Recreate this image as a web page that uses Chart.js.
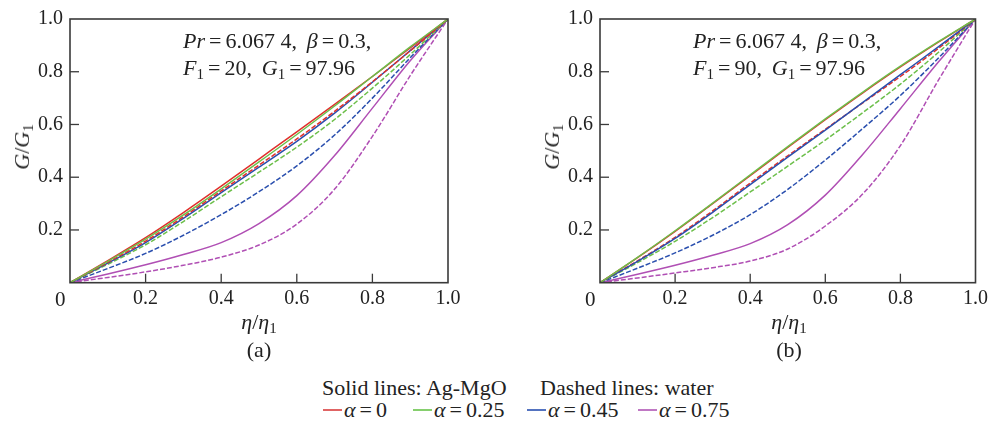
<!DOCTYPE html>
<html>
<head>
<meta charset="utf-8">
<script src="https://cdn.jsdelivr.net/npm/chart.js@4/dist/chart.umd.min.js"></script>
<style>
  html,body{margin:0;padding:0;background:#fff;}
  #wrap{position:relative;width:992px;height:430px;overflow:hidden;background:#fff;}
  canvas{position:absolute;top:0;}
  .t{position:absolute;font-family:"Liberation Serif","DejaVu Serif",serif;font-size:22px;color:#222;white-space:nowrap;line-height:1;}
  .c{transform:translate(-50%,-50%);}
  .rot{transform:translate(-50%,-50%) rotate(-90deg);}
  sub{font-size:15px;vertical-align:-4px;line-height:0;}
  .eq{margin:0 4px;}
  .ln{position:absolute;height:2px;width:19px;}
</style>
</head>
<body>
<div id="wrap">
  <canvas id="cA" width="470" height="330" style="left:0px;width:470px;height:330px;"></canvas>
  <canvas id="cB" width="462" height="330" style="left:530px;width:462px;height:330px;"></canvas>

  <!-- panel (a) texts -->
  <div class="t" style="left:183px;top:27px;line-height:27px;"><i>Pr</i><span class="eq">=</span>6.067 4, &thinsp;<i>β</i><span class="eq">=</span>0.3,<br><i>F</i><sub>1</sub><span class="eq">=</span>20, &thinsp;<i>G</i><sub>1</sub><span class="eq">=</span>97.96</div>
  <div class="t" style="left:55px;top:289px;font-size:21px;">0</div>
  <div class="t c" style="left:259px;top:322px;"><i>η</i>/<i>η</i><sub>1</sub></div>
  <div class="t c" style="left:259px;top:350px;">(a)</div>
  <div class="t rot" style="left:22px;top:147px;"><i>G</i>/<i>G</i><sub>1</sub></div>

  <!-- panel (b) texts -->
  <div class="t" style="left:693px;top:27px;line-height:27px;"><i>Pr</i><span class="eq">=</span>6.067 4, &thinsp;<i>β</i><span class="eq">=</span>0.3,<br><i>F</i><sub>1</sub><span class="eq">=</span>90, &thinsp;<i>G</i><sub>1</sub><span class="eq">=</span>97.96</div>
  <div class="t" style="left:585px;top:289px;font-size:21px;">0</div>
  <div class="t c" style="left:789px;top:322px;"><i>η</i>/<i>η</i><sub>1</sub></div>
  <div class="t c" style="left:789px;top:350px;">(b)</div>
  <div class="t rot" style="left:552px;top:147px;"><i>G</i>/<i>G</i><sub>1</sub></div>

  <!-- legend -->
  <div class="t" style="left:322px;top:377px;">Solid lines: Ag-MgO</div>
  <div class="t" style="left:540px;top:377px;">Dashed lines: water</div>
  <div id="legend"></div>
</div>

<script>
// ---------------- data ----------------
const eta = [0, 0.1, 0.2, 0.3, 0.4, 0.5, 0.6, 0.7, 0.8, 0.9, 1.0];

const xTickValues = [0, 0.2, 0.4, 0.6, 0.8, 1.0];
const yTickValues = [0.2, 0.4, 0.6, 0.8, 1.0];

const alphaLabels = ['α=0', 'α=0.25', 'α=0.45', 'α=0.75'];
const alphaColors = ['#e0302c', '#6cbf4a', '#2a4fae', '#b04fb4'];
const legendColors = ['#e06464', '#86cf6e', '#5473c0', '#c078c4'];

// (a) F1 = 20
const A_AgMgO_a0   = [0, 0.084, 0.171, 0.266, 0.366, 0.469, 0.572, 0.676, 0.782, 0.890, 1];
const A_AgMgO_a025 = [0, 0.081, 0.165, 0.257, 0.356, 0.458, 0.562, 0.670, 0.782, 0.894, 1];
const A_AgMgO_a045 = [0, 0.074, 0.152, 0.244, 0.342, 0.438, 0.536, 0.643, 0.760, 0.880, 1];
const A_AgMgO_a075 = [0, 0.033, 0.068, 0.107, 0.152, 0.224, 0.330, 0.482, 0.662, 0.842, 1];
const A_water_a0   = [0, 0.077, 0.158, 0.250, 0.348, 0.446, 0.545, 0.650, 0.762, 0.879, 1];
const A_water_a025 = [0, 0.070, 0.144, 0.232, 0.326, 0.419, 0.514, 0.619, 0.738, 0.865, 1];
const A_water_a045 = [0, 0.054, 0.111, 0.180, 0.258, 0.345, 0.443, 0.560, 0.700, 0.853, 1];
const A_water_a075 = [0, 0.020, 0.041, 0.066, 0.097, 0.143, 0.222, 0.355, 0.555, 0.785, 1];

// (b) F1 = 90
const B_AgMgO_a0   = [0, 0.095, 0.195, 0.300, 0.406, 0.513, 0.618, 0.720, 0.818, 0.911, 1];
const B_AgMgO_a025 = [0, 0.096, 0.197, 0.302, 0.409, 0.516, 0.621, 0.723, 0.821, 0.913, 1];
const B_AgMgO_a045 = [0, 0.081, 0.168, 0.267, 0.372, 0.476, 0.579, 0.684, 0.789, 0.893, 1];
const B_AgMgO_a075 = [0, 0.032, 0.066, 0.104, 0.148, 0.220, 0.332, 0.487, 0.660, 0.835, 1];
const B_water_a0   = [0, 0.083, 0.172, 0.272, 0.378, 0.481, 0.582, 0.682, 0.782, 0.887, 1];
const B_water_a025 = [0, 0.076, 0.157, 0.247, 0.344, 0.442, 0.541, 0.645, 0.753, 0.872, 1];
const B_water_a045 = [0, 0.055, 0.113, 0.180, 0.258, 0.354, 0.465, 0.585, 0.710, 0.850, 1];
const B_water_a075 = [0, 0.018, 0.037, 0.057, 0.082, 0.128, 0.215, 0.337, 0.520, 0.765, 1];

// ---------------- helpers ----------------
const FONT = {family: '"Liberation Serif", "DejaVu Serif", serif', size: 20};

function pts(ys){ return eta.map((x,i)=>({x:x, y:ys[i]})); }

function ds(label, ys, colorIdx, dashed){
  return {
    label: label,
    data: pts(ys),
    borderColor: alphaColors[colorIdx],
    backgroundColor: alphaColors[colorIdx],
    borderWidth: 1.5,
    borderDash: dashed ? [5, 2] : [],
    pointRadius: 0,
    fill: false,
    cubicInterpolationMode: 'monotone'
  };
}

const frameTicks = {
  id: 'frameTicks',
  afterDatasetsDraw(chart){
    const {ctx, chartArea:a, scales:{x, y}} = chart;
    ctx.save();
    ctx.strokeStyle = '#3a3a3a';
    ctx.lineWidth = 1.6;
    ctx.strokeRect(a.left, a.top, a.right - a.left, a.bottom - a.top);
    ctx.lineWidth = 1.3;
    xTickValues.slice(1, -1).forEach(v=>{
      const px = x.getPixelForValue(v);
      ctx.beginPath(); ctx.moveTo(px, a.bottom); ctx.lineTo(px, a.bottom - 9); ctx.stroke();
    });
    yTickValues.slice(0, -1).forEach(v=>{
      const py = y.getPixelForValue(v);
      ctx.beginPath(); ctx.moveTo(a.left, py); ctx.lineTo(a.left + 9, py); ctx.stroke();
    });
    ctx.restore();
  }
};

function makeChart(id, sets, rightPad){
  return new Chart(document.getElementById(id), {
    type: 'line',
    data: { datasets: sets },
    options: {
      responsive: false,
      animation: false,
      devicePixelRatio: 1,
      layout: { padding: { top: 13, right: rightPad, bottom: 0, left: 0 } },
      plugins: { legend: { display: false }, tooltip: { enabled: false } },
      scales: {
        x: {
          type: 'linear', min: 0, max: 1,
          afterBuildTicks: s => { s.ticks = xTickValues.map(v => ({value: v})); },
          afterFit: s => { s.height = 47.3; },
          grid: { display: false, drawTicks: false },
          border: { display: false },
          ticks: {
            padding: 4, color: '#222', font: FONT, maxRotation: 0, autoSkip: false,
            callback: v => (Math.abs(v) < 1e-9 ? '' : Number(v).toFixed(1))
          }
        },
        y: {
          type: 'linear', min: 0, max: 1,
          afterBuildTicks: s => { s.ticks = yTickValues.map(v => ({value: v})); },
          afterFit: s => { s.width = 70; },
          grid: { display: false, drawTicks: false },
          border: { display: false },
          ticks: {
            padding: 7, color: '#222', font: FONT, autoSkip: false,
            callback: v => Number(v).toFixed(1)
          }
        }
      }
    },
    plugins: [frameTicks]
  });
}

// draw order: first dataset ends up on top
makeChart('cA', [
  ds('Ag-MgO α=0.25', A_AgMgO_a025, 1, false),
  ds('Ag-MgO α=0',    A_AgMgO_a0,   0, false),
  ds('water α=0',     A_water_a0,   0, true),
  ds('Ag-MgO α=0.45', A_AgMgO_a045, 2, false),
  ds('water α=0.25',  A_water_a025, 1, true),
  ds('water α=0.45',  A_water_a045, 2, true),
  ds('Ag-MgO α=0.75', A_AgMgO_a075, 3, false),
  ds('water α=0.75',  A_water_a075, 3, true)
], 22);

makeChart('cB', [
  ds('Ag-MgO α=0.25', B_AgMgO_a025, 1, false),
  ds('Ag-MgO α=0',    B_AgMgO_a0,   0, false),
  ds('Ag-MgO α=0.45', B_AgMgO_a045, 2, false),
  ds('water α=0',     B_water_a0,   0, true),
  ds('water α=0.25',  B_water_a025, 1, true),
  ds('water α=0.45',  B_water_a045, 2, true),
  ds('Ag-MgO α=0.75', B_AgMgO_a075, 3, false),
  ds('water α=0.75',  B_water_a075, 3, true)
], 14.3);

// legend row (α values)
const legendX = [323, 413, 527, 638];
const lg = document.getElementById('legend');
alphaLabels.forEach((lab, i)=>{
  const line = document.createElement('div');
  line.className = 'ln';
  line.style.left = legendX[i] + 'px';
  line.style.top = '409px';
  line.style.background = legendColors[i];
  lg.appendChild(line);
  const txt = document.createElement('div');
  txt.className = 't';
  txt.style.left = (legendX[i] + 21) + 'px';
  txt.style.top = '399px';
  const parts = lab.split('=');
  txt.innerHTML = '<i>α</i><span class="eq">=</span>' + parts[1];
  lg.appendChild(txt);
});
</script>
</body>
</html>
